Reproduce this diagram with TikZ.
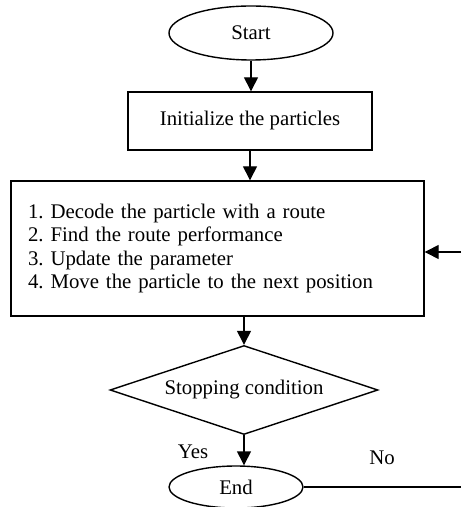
\documentclass[tikz,border=0pt]{standalone}
\usepackage{fontspec}
\setmainfont{Liberation Serif}
\usetikzlibrary{shapes.geometric, arrows.meta}

\begin{document}
\frenchspacing
\begin{tikzpicture}[x=0.5pt, y=-0.5pt, line width=0.7pt,
    font=\fontsize{10.4}{11.6}\selectfont,
    terminal/.style={ellipse, draw, inner sep=0pt},
    procbox/.style={rectangle, draw, inner sep=0pt},
    decision/.style={diamond, draw, inner sep=0pt, aspect=3},
    flow/.style={-{Triangle[length=7pt, width=7pt]}}]
    \useasboundingbox (0, 0) rectangle (461, 507);
    \node[terminal, minimum width=82pt, minimum height=27pt] (start) at (251, 33) {Start};
    \node[procbox, minimum width=122pt, minimum height=29pt] (init) at (250, 121) {Initialize the particles};
    \node[procbox, minimum height=67.5pt, text width=189.5pt, inner xsep=8.5pt, align=left] (steps) at (217.5, 248.5)
        {1. Decode the particle with a route\\2. Find the route performance\\3. Update the parameter\\4. Move the particle to the next position};
    \node[decision, minimum width=134pt, minimum height=44.5pt] (cond) at (244, 390) {Stopping condition};
    \node[terminal, minimum width=67pt, minimum height=21pt] (end) at (236, 487) {End};
    \node (yes) at (193, 452) {Yes};
    \node (no) at (382, 458) {No};
    \coordinate (loopin) at (461, 252);
    \coordinate (loopout) at (461, 487);
    \draw[flow] (start.south) -- (start.south |- init.north);
    \draw[flow] (init.south) -- (init.south |- steps.north);
    \draw[flow] (cond.north |- steps.south) -- (cond.north);
    \draw[flow] (cond.south) -- (cond.south |- end.north);
    \draw (end.east) -- (loopout);
    \draw[flow] (loopin) -- (loopin -| steps.east);
\end{tikzpicture}
\end{document}
